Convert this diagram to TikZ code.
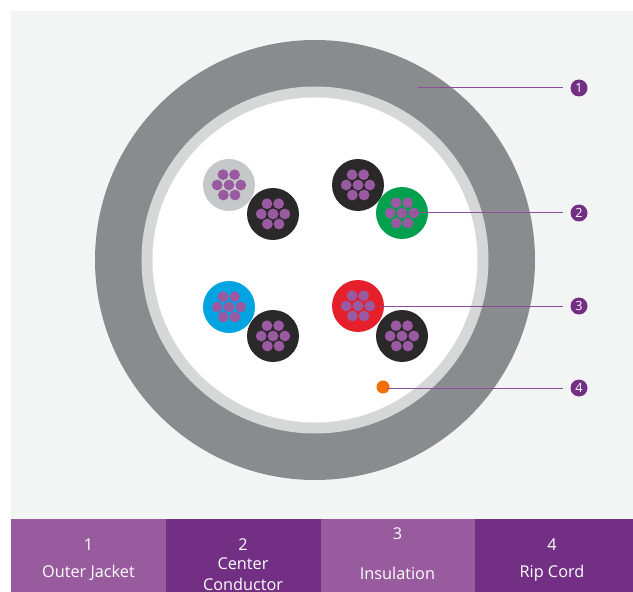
\documentclass[tikz,border=0pt]{standalone}
\usepackage{fontspec}
\setmainfont{Open Sans}
\definecolor{panelbg}{HTML}{F3F5F5}
\definecolor{jacket}{HTML}{8A8B8E}
\definecolor{insul}{HTML}{D6D7D7}
\definecolor{barlight}{HTML}{975B9E}
\definecolor{bardark}{HTML}{722F84}
\definecolor{strand}{HTML}{9A5AA2}
\definecolor{wireblack}{HTML}{2B2829}
\definecolor{wiregrey}{HTML}{C4C8C8}
\definecolor{wiregreen}{HTML}{00A04E}
\definecolor{wireblue}{HTML}{00A4E0}
\definecolor{wirered}{HTML}{E6202A}
\definecolor{cordorange}{HTML}{F26F00}
\definecolor{leader}{HTML}{8A4E98}
\tikzset{
  x=0.75pt,y=-0.75pt,
  disc/.style={circle,inner sep=0pt,outer sep=0pt,minimum size=#1*0.75pt},
  badge/.style={disc=17,fill=bardark,text=white,font=\fontsize{9.5}{9.5}\selectfont},
  leaderline/.style={draw=leader,line width=0.75pt},
  barcell/.style={anchor=north west,inner sep=0pt,outer sep=0pt,minimum height=54.75pt},
  bartext/.style={text=white,inner sep=0pt,font=\fontsize{12.2}{12.2}\selectfont},
}
\newcommand{\cablewire}[4]{%
  \node[disc=52,fill=#3] (#4) at (#1,#2) {};
  \foreach \dx/\dy in {-6/-10.3,5.6/-10.3,-11.8/0,0/0,11.8/0,-5.6/10,6/10}
    \fill[strand] (#1+\dx,#2+\dy) circle (5.4);
}
\begin{document}
\begin{tikzpicture}
\useasboundingbox (0,0) rectangle (633,592);
\fill[white] (0,0) rectangle (633,592);
\fill[panelbg] (11,11) rectangle (633,519);
\node[disc=440,fill=jacket] (jacket) at (315,260) {};
\node[disc=347,fill=insul] (insulation) at (315,260) {};
\node[disc=325,fill=white] (core) at (315,260) {};
\cablewire{229}{185}{wiregrey}{w1}
\cablewire{273}{214}{wireblack}{w2}
\cablewire{358}{185}{wireblack}{w3}
\cablewire{402}{213}{wiregreen}{w4}
\cablewire{229}{307}{wireblue}{w5}
\cablewire{273}{336}{wireblack}{w6}
\cablewire{358}{306}{wirered}{w7}
\cablewire{402}{336}{wireblack}{w8}
\node[disc=13,fill=cordorange] (cord) at (383,387) {};
\node[badge] (b1) at (579,88) {1};
\node[badge] (b2) at (579,213) {2};
\node[badge] (b3) at (579,306) {3};
\node[badge] (b4) at (579,388) {4};
\coordinate (p1) at (418,88);
\coordinate (p2) at (402,213);
\coordinate (p3) at (379,306);
\coordinate (p4) at (387,388);
\coordinate (e1) at (563,88);
\coordinate (e2) at (563,213);
\coordinate (e3) at (563,306);
\coordinate (e4) at (563,388);
\draw[leaderline] (p1) -- (e1);
\draw[leaderline] (p2) -- (e2);
\draw[leaderline] (p3) -- (e3);
\draw[leaderline] (p4) -- (e4);
\node[barcell,fill=barlight,minimum width=116.25pt] (c1) at (11,519) {};
\node[barcell,fill=bardark,minimum width=116.25pt] (c2) at (166,519) {};
\node[barcell,fill=barlight,minimum width=116.25pt] (c3) at (321,519) {};
\node[barcell,fill=bardark,minimum width=118.5pt] (c4) at (475,519) {};
\node[bartext] (n1) at (88.5,545) {1};
\node[bartext] (t1) at (88.5,573) {Outer Jacket};
\node[bartext] (n2) at (243,545) {2};
\node[bartext] (t2a) at (243,563.5) {Center};
\node[bartext] (t2b) at (243,584) {Conductor};
\node[bartext] (n3) at (397.5,534) {3};
\node[bartext] (t3) at (397.5,573) {Insulation};
\node[bartext] (n4) at (552,545) {4};
\node[bartext] (t4) at (552,573) {Rip Cord};
\end{tikzpicture}
\end{document}
